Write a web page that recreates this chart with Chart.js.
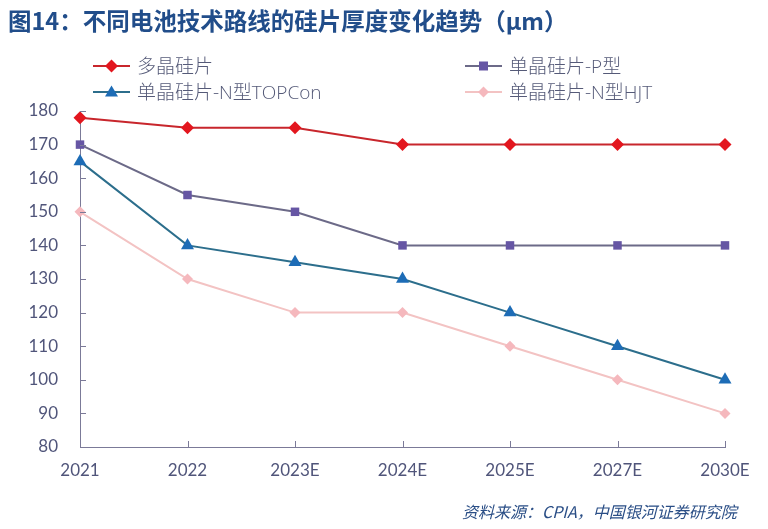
<!DOCTYPE html>
<html>
<head>
<meta charset="utf-8">
<script src="https://cdn.jsdelivr.net/npm/chart.js@4/dist/chart.umd.min.js"></script>
<style>
  html, body { margin:0; padding:0; background:#fff; }
  #wrap { position:relative; width:768px; height:529px; overflow:hidden; font-family:"Noto Sans CJK SC","Noto Sans",sans-serif; }
  #c { position:absolute; left:0; top:0; }
  #title { position:absolute; left:8px; top:3px; font-size:23.5px; font-weight:bold; color:#214d8a; white-space:nowrap; }
  .lg { position:absolute; display:flex; align-items:center; font-size:19px; line-height:24px; height:24px; color:#555a78; white-space:nowrap; font-family:"Open Sans","Noto Sans CJK SC",sans-serif; font-weight:300; }
  .lg svg { margin-right:7px; flex:none; }
  #src { position:absolute; left:462px; top:499px; font-size:16px; font-style:italic; color:#2a4e86; white-space:nowrap; }
</style>
</head>
<body>
<div id="wrap">
  <canvas id="c" width="768" height="529"></canvas>
  <div id="title">图14：不同电池技术路线的硅片厚度变化趋势（μm）</div>
  <div id="legend"></div>
  <div id="src">资料来源：CPIA，中国银河证券研究院</div>
</div>
<script>
const categories = ["2021","2022","2023E","2024E","2025E","2027E","2030E"];
const seriesNames = ["多晶硅片","单晶硅片-P型","单晶硅片-N型TOPCon","单晶硅片-N型HJT"];
const multiSi = [178,175,175,170,170,170,170];
const monoP = [170,155,150,140,140,140,140];
const monoTOPCon = [165,140,135,130,120,110,100];
const monoHJT = [150,130,120,120,110,100,90];
const yTicks = [80,90,100,110,120,130,140,150,160,170,180];

const styles = [
  {line:"#c8262c", fill:"#e3161e", shape:"rectRot", r:6.5},
  {line:"#6c6a88", fill:"#6656a4", shape:"rect", r:6},
  {line:"#2c6e8c", fill:"#1d6cb6", shape:"triangle", r:7.5},
  {line:"#f3c3c3", fill:"#f5b8bd", shape:"rectRot", r:5.5}
];
const values = [multiSi, monoP, monoTOPCon, monoHJT];

// HTML legend
const legendPos = [[93,54],[465,54],[93,80],[465,80]];
const lgDiv = document.getElementById('legend');
seriesNames.forEach((name,i)=>{
  const s = styles[i];
  let marker;
  if (s.shape==="rectRot") marker = `<polygon points="18.5,${12-s.r} ${18.5+s.r},12 18.5,${12+s.r} ${18.5-s.r},12" fill="${s.fill}"/>`;
  else if (s.shape==="rect") marker = `<rect x="14" y="7.5" width="9" height="9" fill="${s.fill}"/>`;
  else marker = `<polygon points="18.5,5.5 25,16.5 12,16.5" fill="${s.fill}"/>`;
  const el = document.createElement('div');
  el.className='lg';
  el.style.left = legendPos[i][0]+'px';
  el.style.top = legendPos[i][1]+'px';
  el.innerHTML = `<svg width="37" height="24"><line x1="0" y1="12" x2="37" y2="12" stroke="${s.line}" stroke-width="2"/>${marker}</svg><span>${name}</span>`;
  lgDiv.appendChild(el);
});

const axisColor = "#7b7a98";
const tickColor = "#50557a";
const tickFont = {family:"Lato", size:17};

const inwardTicks = {
  id:'inwardTicks',
  afterDatasetsDraw(chart){
    const ctx = chart.ctx, x = chart.scales.x, y = chart.scales.y, a = chart.chartArea;
    ctx.save();
    ctx.strokeStyle = axisColor; ctx.lineWidth = 1;
    ctx.beginPath();
    yTicks.forEach(v=>{ const py = Math.round(y.getPixelForValue(v))+0.5; ctx.moveTo(a.left, py); ctx.lineTo(a.left+6, py); });
    categories.forEach((c,i)=>{ if(i===0) return; const px = Math.round(x.getPixelForValue(i))+0.5; ctx.moveTo(px, a.bottom); ctx.lineTo(px, a.bottom-6); });
    ctx.stroke();
    ctx.restore();
  }
};

new Chart(document.getElementById('c'), {
  type:'line',
  data:{
    labels:categories,
    datasets: seriesNames.map((n,i)=>({
      label:n,
      data:values[i],
      borderColor:styles[i].line,
      backgroundColor:styles[i].fill,
      pointBackgroundColor:styles[i].fill,
      pointBorderColor:styles[i].fill,
      pointStyle:styles[i].shape,
      pointRadius:styles[i].r,
      pointBorderWidth:0,
      borderWidth:2,
      tension:0,
      clip:false
    })).reverse()
  },
  options:{
    responsive:false,
    animation:false,
    devicePixelRatio:1,
    layout:{padding:{left:0, right:43, top:111, bottom:0}},
    plugins:{legend:{display:false}, tooltip:{enabled:false}},
    scales:{
      x:{
        offset:false,
        grid:{display:false, drawTicks:false},
        border:{display:true, color:axisColor, width:1},
        ticks:{color:tickColor, font:tickFont, padding:13, maxRotation:0, autoSkip:false},
        afterFit(s){ s.height = 82; }
      },
      y:{
        min:80, max:180,
        afterBuildTicks(s){ s.ticks = yTicks.map(v=>({value:v})); },
        grid:{display:false, drawTicks:false},
        border:{display:true, color:axisColor, width:1},
        ticks:{color:tickColor, font:tickFont, padding:22},
        afterFit(s){ s.width = 80; }
      }
    }
  },
  plugins:[inwardTicks]
});
</script>
</body>
</html>
